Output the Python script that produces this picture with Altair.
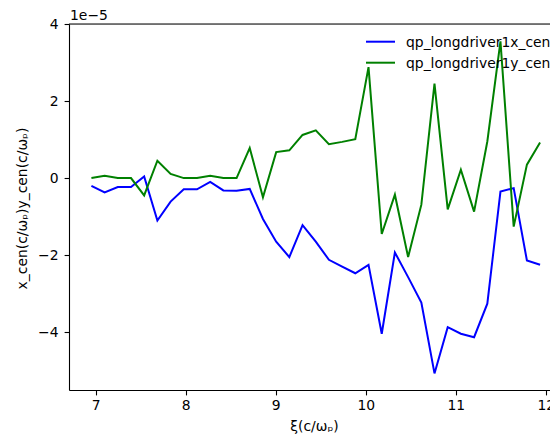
import altair as alt
import pandas as pd

# Longitudinal position xi (c/omega_p)
xi = [6.952, 7.099, 7.245, 7.392, 7.538, 7.685, 7.832, 7.978, 8.125, 8.272,
      8.418, 8.565, 8.711, 8.858, 9.005, 9.151, 9.298, 9.445, 9.591, 9.738,
      9.884, 10.031, 10.178, 10.324, 10.471, 10.618, 10.764, 10.911, 11.057,
      11.204, 11.351, 11.497, 11.644, 11.791, 11.937]

# Centroid values in units of 1e-5
x_cen = [-0.20, -0.37, -0.23, -0.23, 0.04, -1.10, -0.61, -0.29, -0.29, -0.10,
         -0.32, -0.33, -0.28, -1.06, -1.65, -2.05, -1.22, -1.65, -2.12, -2.30,
         -2.47, -2.25, -4.04, -1.93, -2.57, -3.23, -5.07, -3.87, -4.04, -4.13,
         -3.26, -0.35, -0.26, -2.14, -2.25]
y_cen = [0.00, 0.06, 0.00, 0.00, -0.45, 0.45, 0.11, 0.00, 0.00, 0.06,
         0.00, 0.00, 0.78, -0.50, 0.675, 0.72, 1.12, 1.24, 0.88, 0.94,
         1.01, 2.88, -1.45, -0.43, -2.05, -0.69, 2.45, -0.81, 0.22, -0.87,
         0.95, 3.55, -1.26, 0.35, 0.925]

series_names = ["qp_longdriver1x_cen", "qp_longdriver1y_cen"]
series_colors = ["#0000ff", "#008000"]
x_ticks = [7, 8, 9, 10, 11, 12]
y_ticks = [-4, -2, 0, 2, 4]

FONT = "DejaVu Sans"
FS = 13.9

df = pd.concat([
    pd.DataFrame({"xi": xi, "val": x_cen, "series": series_names[0]}),
    pd.DataFrame({"xi": xi, "val": y_cen, "series": series_names[1]}),
])
one_row = pd.DataFrame({"k": [0]})

W, H = 481, 366
x_dom = [6.703, 6.703 + W / 90.0]
y_dom = [-5.5, 4.0]

x_enc = alt.X(
    "xi:Q",
    scale=alt.Scale(domain=x_dom, nice=False, zero=False),
    axis=alt.Axis(
        values=x_ticks, title="ξ(c/ωₚ)", grid=False,
        domainColor="black", domainWidth=1.1, tickColor="black", tickWidth=1.1,
        tickSize=4.9, labelPadding=4, labelFont=FONT, labelFontSize=FS,
        labelColor="black", titleFont=FONT, titleFontSize=FS,
        titleFontWeight="normal", titleColor="black",
        titleX=245, titleY=36, titleBaseline="middle", titleAlign="center",
        labelExpr="format(datum.value, 'd')",
    ),
)
y_enc = alt.Y(
    "val:Q",
    scale=alt.Scale(domain=y_dom, nice=False, zero=False),
    axis=alt.Axis(
        values=y_ticks, title="x_cen(c/ωₚ)y_cen(c/ωₚ)", grid=False,
        domainColor="black", domainWidth=1.1, tickColor="black", tickWidth=1.1,
        tickSize=4.9, labelPadding=6, labelFont=FONT, labelFontSize=FS,
        labelColor="black", titleFont=FONT, titleFontSize=FS,
        titleFontWeight="normal", titleColor="black",
        titleAngle=-90, titleX=-47, titleY=184, titleAlign="center",
        titleBaseline="middle",
        labelExpr="datum.value < 0 ? '\u2212' + format(-datum.value, 'd') : format(datum.value, 'd')",
    ),
)

lines = alt.Chart(df).mark_line(strokeWidth=2, clip=True).encode(
    x=x_enc,
    y=y_enc,
    color=alt.Color("series:N",
                    scale=alt.Scale(domain=series_names, range=series_colors),
                    legend=None),
)

# top spine
top_spine = alt.Chart(one_row).mark_rule(color="black", strokeWidth=1.1).encode(
    y=alt.datum(4.0)
)

# scientific offset text above the y axis
offset_text = alt.Chart(one_row).mark_text(
    text="1e\u22125", font=FONT, fontSize=FS, align="left", baseline="alphabetic",
    color="black"
).encode(x=alt.value(1), y=alt.value(-4))

# legend entries
legend_layers = []
for i, (name, col) in enumerate(zip(series_names, series_colors)):
    ly = 17.7 + 21 * i
    legend_layers.append(
        alt.Chart(one_row).mark_rule(color=col, strokeWidth=2).encode(
            x=alt.value(297), x2=alt.value(326), y=alt.value(ly)
        )
    )
    legend_layers.append(
        alt.Chart(one_row).mark_text(
            text=name, font=FONT, fontSize=FS, align="left", baseline="middle",
            color="black"
        ).encode(x=alt.value(337), y=alt.value(ly + 1))
    )

chart = alt.layer(lines, top_spine, offset_text, *legend_layers).properties(
    width=W, height=H,
    autosize=alt.AutoSizeParams(type="none"),
    padding={"left": 69, "top": 24, "right": 0, "bottom": 46},
).configure_view(stroke=None).configure(background="white")

chart.save("out.html", embed_options={"renderer": "svg", "actions": False})
